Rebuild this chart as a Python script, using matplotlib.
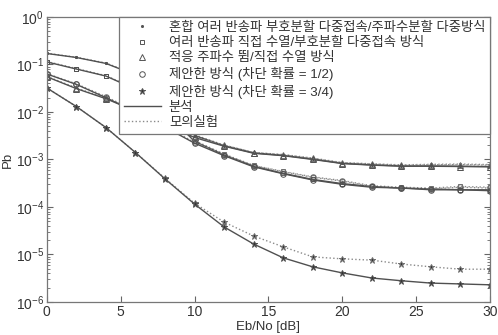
import matplotlib
matplotlib.use("Agg")
import matplotlib.pyplot as plt
from matplotlib.lines import Line2D
from matplotlib.ticker import LogLocator, NullFormatter, MultipleLocator

plt.rcParams['font.family'] = ['Liberation Sans', 'Noto Sans CJK KR', 'DejaVu Sans']
plt.rcParams['mathtext.default'] = 'regular'

ebno = [0, 2, 4, 6, 8, 10, 12, 14, 16, 18, 20, 22, 24, 26, 28, 30]

labels = ["혼합 여러 반송파 부호분할 다중접속/주파수분할 다중방식",
          "여러 반송파 직접 수열/부호분할 다중접속 방식",
          "적응 주파수 뜀/직접 수열 방식",
          "제안한 방식 (차단 확률 = 1/2)",
          "제안한 방식 (차단 확률 = 3/4)"]
line_labels = ["분석", "모의실험"]

mixed_ana = [0.17, 0.14, 0.105, 0.06, 0.015, 0.0032, 0.00195, 0.00137, 0.00122, 0.00102, 0.00083, 0.00077, 0.00073, 0.00073, 0.00072, 0.00071]
mixed_sim = [0.172, 0.142, 0.107, 0.062, 0.016, 0.0033, 0.002, 0.0014, 0.00127, 0.00107, 0.00086, 0.00081, 0.00077, 0.00079, 0.0008, 0.00078]
mcds_ana = [0.113, 0.08, 0.057, 0.03, 0.01, 0.0024, 0.00125, 0.00072, 0.00051, 0.00038, 0.00031, 0.00027, 0.00025, 0.00024, 0.00023, 0.00023]
mcds_sim = [0.115, 0.082, 0.058, 0.031, 0.0105, 0.0025, 0.0013, 0.00075, 0.00056, 0.00043, 0.00036, 0.00028, 0.00026, 0.00025, 0.00027, 0.00026]
afh_ana = [0.055, 0.031, 0.019, 0.0105, 0.0055, 0.0029, 0.0019, 0.00135, 0.0012, 0.001, 0.00082, 0.00076, 0.00072, 0.00072, 0.00071, 0.0007]
afh_sim = [0.056, 0.032, 0.0195, 0.011, 0.0057, 0.003, 0.002, 0.0014, 0.00125, 0.00105, 0.00085, 0.0008, 0.00075, 0.00077, 0.00078, 0.00076]
p12_ana = [0.063, 0.038, 0.02, 0.01, 0.0048, 0.0022, 0.0012, 0.0007, 0.0005, 0.00037, 0.0003, 0.00026, 0.00025, 0.00023, 0.00023, 0.00022]
p12_sim = [0.064, 0.039, 0.021, 0.0105, 0.005, 0.0023, 0.00125, 0.00074, 0.00055, 0.00042, 0.00035, 0.00027, 0.00025, 0.00024, 0.00026, 0.00025]
p34_ana = [0.032, 0.013, 0.0047, 0.0014, 3.9e-4, 1.15e-4, 3.8e-5, 1.66e-5, 8.5e-6, 5.5e-6, 4.1e-6, 3.2e-6, 2.8e-6, 2.5e-6, 2.4e-6, 2.3e-6]
p34_sim = [0.032, 0.013, 0.0047, 0.0014, 4.0e-4, 1.2e-4, 4.8e-5, 2.45e-5, 1.45e-5, 8.9e-6, 8.1e-6, 7.6e-6, 6.3e-6, 5.5e-6, 4.9e-6, 4.9e-6]

ana = [mixed_ana, mcds_ana, afh_ana, p12_ana, p34_ana]
sim = [mixed_sim, mcds_sim, afh_sim, p12_sim, p34_sim]
markers = ['.', 's', '^', 'o', '*']
mfill = ['#555555', 'none', 'none', 'none', '#333333']
msizes = [3.0, 3.5, 4, 4, 4.5]

fig = plt.figure(figsize=(4.98, 3.35), dpi=100)
ax = fig.add_axes([0.094, 0.0985, 0.89, 0.851])

c_solid = '#505050'
c_dot = '#8a8a8a'
for a, s, m, mf, ms in zip(ana, sim, markers, mfill, msizes):
    ax.semilogy(ebno, s, linestyle=':', color=c_dot, lw=1.0, marker=m, ms=ms,
                mfc=mf, mec='#707070', mew=0.7)
    ax.semilogy(ebno, a, linestyle='-', color=c_solid, lw=1.0, marker=m, ms=ms,
                mfc=mf, mec='#505050', mew=0.7)

ax.set_xlim(0, 30)
ax.set_ylim(1e-6, 1)
ax.xaxis.set_major_locator(MultipleLocator(5))
ax.yaxis.set_major_locator(LogLocator(base=10, numticks=10))
ax.yaxis.set_minor_locator(LogLocator(base=10, subs=range(2, 10), numticks=20))
ax.yaxis.set_minor_formatter(NullFormatter())
txtc = '#333333'
ax.tick_params(which='both', direction='in', top=True, right=True, colors='#666666',
               labelcolor=txtc, labelsize=10, pad=2)
ax.tick_params(which='major', length=4)
ax.tick_params(which='minor', length=2)
for sp in ax.spines.values():
    sp.set_color('#777777')
    sp.set_linewidth(0.9)

ax.set_xlabel("Eb/No [dB]", fontsize=9.5, color=txtc)
ax.xaxis.set_label_coords(0.5, -0.068)
ax.set_ylabel("Pb", fontsize=9.5, color=txtc)
ax.yaxis.set_label_coords(-0.075, 0.5)

handles = []
for m, mf, ms in zip(markers, mfill, msizes):
    handles.append(Line2D([], [], linestyle='none', marker=m, ms=ms, mfc=mf,
                          mec='#555555', mew=0.7))
handles.append(Line2D([], [], linestyle='-', color=c_solid, lw=1.0))
handles.append(Line2D([], [], linestyle=':', color=c_dot, lw=1.0))
leg = ax.legend(handles, labels + line_labels, loc='upper right', borderaxespad=0,
                fontsize=9.6, fancybox=False, framealpha=1, edgecolor='#777777',
                handlelength=2.8, handletextpad=0.6, labelspacing=0.22,
                borderpad=0.35)
leg.get_frame().set_linewidth(0.9)
for t in leg.get_texts():
    t.set_color(txtc)

fig.savefig("out.png", dpi=100)
